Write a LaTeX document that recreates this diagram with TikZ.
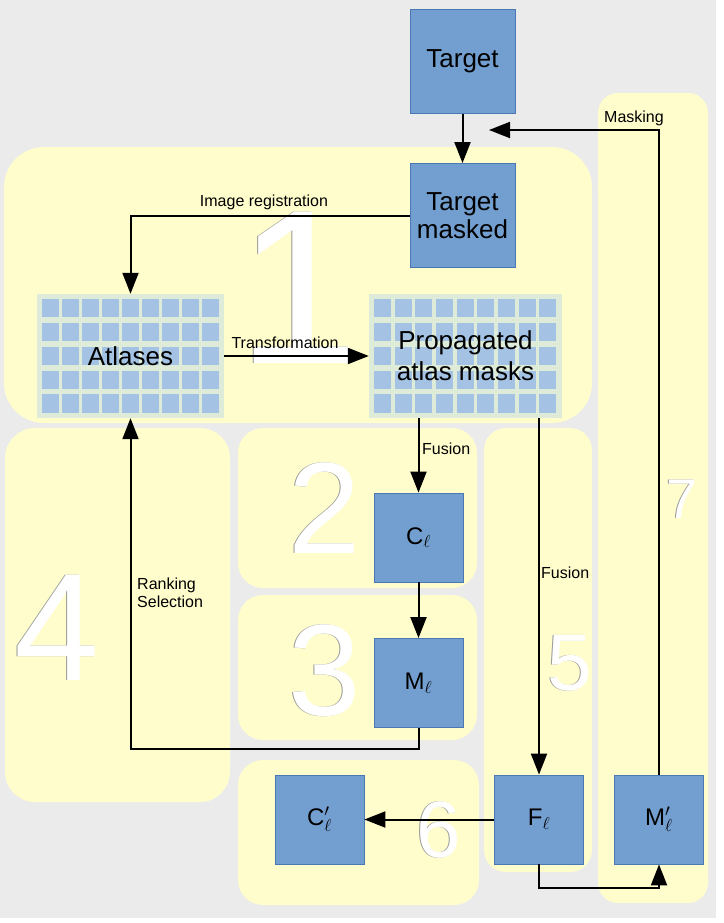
\documentclass[tikz,border=0pt]{standalone}
\usepackage{fontspec}
\setmainfont{Liberation Sans}
\usetikzlibrary{arrows.meta}
\definecolor{bggray}{HTML}{EBEBEB}
\definecolor{zoneyellow}{HTML}{FFFDCC}
\definecolor{boxblue}{HTML}{729FCF}
\definecolor{boxedge}{HTML}{4A78B4}
\definecolor{gridbg}{HTML}{DDEBD8}
\definecolor{cellblue}{HTML}{A3C2E4}
% grosse Ziffern: Name, x, y (Grundlinie), Groesse, Ziffer
\newcommand{\bignum}[5]{%
  \node[digit, text=black!40] (#1s) at (#2-1.3,#3) {\fontsize{#4}{#4}\selectfont #5};
  \node[digit] (#1) at (#2,#3) {\fontsize{#4}{#4}\selectfont #5};}
% Raster: Knoten, Spaltenabstand
\newcommand{\cells}[2]{%
  \foreach \i in {0,...,8}
    \foreach \j in {0,...,4}
      \fill[cellblue] ([shift={(5+\i*#2,5+\j*23.9)}]#1.north west) rectangle ++(17,18.5);}
\begin{document}
\begin{tikzpicture}[x=1pt,y=-1pt,
  region/.style={fill=zoneyellow, rounded corners=#1},
  digit/.style={text=white, anchor=base, inner sep=0},
  bigbox/.style={draw=boxedge, fill=boxblue, line width=0.8pt, minimum width=105pt,
    minimum height=104pt, align=center, font=\fontsize{26}{28}\selectfont},
  smallbox/.style={draw=boxedge, fill=boxblue, line width=0.8pt, minimum width=89pt,
    minimum height=89pt, font=\fontsize{24}{26}\selectfont},
  gridbox/.style={fill=gridbg, minimum height=124pt, inner sep=0},
  lbl/.style={font=\fontsize{16}{18}\selectfont, inner sep=0},
  flow/.style={line width=2pt, -{Triangle[length=21pt,width=16pt]}}]
% Hintergrund
\useasboundingbox (0,0) rectangle (723,923);
\fill[bggray] (0,0) rectangle (716,918);
% Bereiche
\fill[region=40] (4,147) rectangle (592,423);
\fill[region=30] (5,428) rectangle (230,802);
\fill[region=25] (238,428) rectangle (477,588);
\fill[region=25] (238,595) rectangle (477,740);
\fill[region=22] (484,428) rectangle (592,872);
\fill[region=25] (238,760) rectangle (479,905);
\fill[region=20] (598,93) rectangle (708,903);
% Ziffern
\bignum{n1}{299}{363}{220}{1}
\bignum{n2}{325}{553}{130}{2}
\bignum{n3}{325}{715}{130}{3}
\bignum{n4}{57}{680}{153}{4}
\bignum{n5}{570}{690}{80}{5}
\bignum{n6}{439}{857}{80}{6}
\bignum{n7}{682}{518}{56}{7}
% Kaesten
\node[bigbox] (target) at (462.5,61.5) {Target};
\node[bigbox] (tmask) at (462.5,215.5) {Target\\masked};
\node[gridbox, minimum width=187pt] (atl) at (130.5,356) {};
\node[gridbox, minimum width=193pt] (prop) at (465.5,356) {};
\cells{atl}{20}
\cells{prop}{20.7}
\node[font=\fontsize{26}{28}\selectfont] (atltxt) at (atl.center) {Atlases};
\node[font=\fontsize{26}{31}\selectfont, align=center] (proptxt) at (prop.center) {Propagated\\atlas masks};
\node[smallbox] (cl) at (418.5,537.5) {C$_\ell$};
\node[smallbox] (ml) at (418.5,683) {M$_\ell$};
\node[smallbox] (cpl) at (319.5,819.5) {C$'_\ell$};
\node[smallbox] (fl) at (539,819.5) {F$_\ell$};
\node[smallbox] (mpl) at (659,819.5) {M$'_\ell$};
\coordinate (mk) at (489,130);
% Pfeile
\draw[flow] (target) -- (tmask);
\draw[flow] (tmask.west) -| (atl.north);
\draw[flow] (atl.east) -- (prop.west);
\draw[flow] (prop.south -| cl.north) -- (cl.north);
\draw[flow] (prop.south -| fl.north) -- (fl.north);
\draw[flow] (cl) -- (ml);
\draw[flow] (ml.south) -- ++(0,21) -| (atl.south);
\draw[flow] (fl.west) -- (cpl.east);
\draw[flow] (fl.south) -- ++(0,24) -| (mpl.south);
\draw[flow] (mpl.north) |- (mk);
% Beschriftungen
\node[lbl] (reg) at (264,202) {Image registration};
\node[lbl] (trf) at (285,343) {Transformation};
\node[lbl, anchor=west] (fus1) at (422,449) {Fusion};
\node[lbl, anchor=west] (fus2) at (541,573) {Fusion};
\node[lbl, anchor=west, align=left] (rank) at (137,593) {Ranking\\Selection};
\node[lbl, anchor=west] (mask) at (604,118) {Masking};
\end{tikzpicture}
\end{document}
